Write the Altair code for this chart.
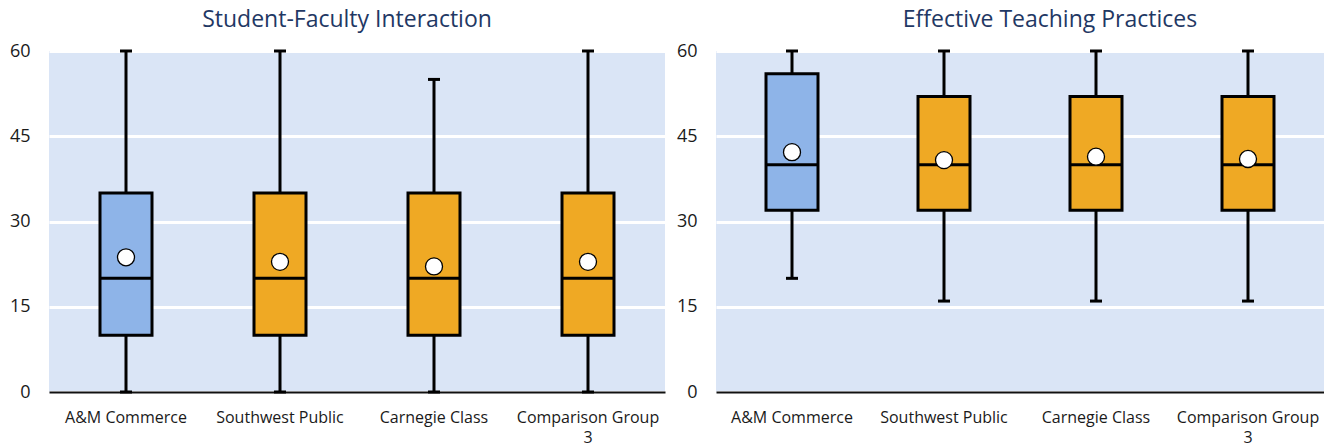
import altair as alt
import pandas as pd

# Institution groups shown along the x axis of both panels
GROUPS = ["A&M Commerce", "Southwest Public", "Carnegie Class", "Comparison Group 3"]

# Student-Faculty Interaction: five-number summary plus mean per group
SFI_MIN = [0, 0, 0, 0]
SFI_Q1 = [10, 10, 10, 10]
SFI_MEDIAN = [20, 20, 20, 20]
SFI_Q3 = [35, 35, 35, 35]
SFI_MAX = [60, 60, 55, 60]
SFI_MEAN = [23.7, 22.9, 22.1, 22.9]

# Effective Teaching Practices: five-number summary plus mean per group
ETP_MIN = [20, 16, 16, 16]
ETP_Q1 = [32, 32, 32, 32]
ETP_MEDIAN = [40, 40, 40, 40]
ETP_Q3 = [56, 52, 52, 52]
ETP_MAX = [60, 60, 60, 60]
ETP_MEAN = [42.2, 40.8, 41.4, 41.0]

Y_TICKS = [0, 15, 30, 45, 60]

# Styling
FONT = "Open Sans"
TEXT_COLOR = "#1a1a1a"
TITLE_COLOR = "#1f3864"
PLOT_BG = "#dae5f6"
BOX_COLORS = ["#8eb4e8", "#efa924", "#efa924", "#efa924"]


def panel(title, lo, q1, med, q3, hi, mean, width, title_dx):
    df = pd.DataFrame(
        {"group": GROUPS, "lo": lo, "q1": q1, "med": med, "q3": q3, "hi": hi, "mean": mean}
    )

    x = alt.X(
        "group:N",
        sort=GROUPS,
        scale=alt.Scale(domain=GROUPS, paddingInner=0, paddingOuter=0),
        axis=alt.Axis(
            title=None,
            labelAngle=0,
            ticks=False,
            grid=False,
            domain=True,
            domainColor="#111111",
            domainWidth=2,
            labelFont=FONT,
            labelFontSize=16,
            labelColor=TEXT_COLOR,
            labelPadding=17,
            labelLineHeight=20,
            labelExpr="datum.label == 'Comparison Group 3' ? ['Comparison Group', '3'] : datum.label",
        ),
    )
    y_scale = alt.Scale(domain=[0, 60], nice=False)
    y_axis = alt.Axis(
        title=None,
        values=Y_TICKS,
        ticks=False,
        domain=False,
        grid=True,
        gridColor="white",
        gridWidth=3,
        labelFont=FONT,
        labelFontSize=18,
        labelColor=TEXT_COLOR,
        labelPadding=19,
        minExtent=40,
        maxExtent=40,
    )

    def y(field):
        return alt.Y(field, type="quantitative", scale=y_scale, axis=y_axis, title=None)

    base = alt.Chart(df)

    whisker = base.mark_rule(color="black", strokeWidth=3).encode(
        x=x, y=y("lo"), y2="hi:Q"
    )
    box = base.mark_bar(size=52, stroke="black", strokeWidth=3, strokeJoin="miter").encode(
        x=x,
        y=y("q1"),
        y2="q3:Q",
        color=alt.Color(
            "group:N", scale=alt.Scale(domain=GROUPS, range=BOX_COLORS), legend=None
        ),
    )
    median = base.mark_tick(size=52, thickness=3, color="black", opacity=1).encode(
        x=x, y=y("med")
    )
    cap_lo = base.mark_tick(size=12, thickness=3, color="black", opacity=1).encode(
        x=x, y=y("lo")
    )
    cap_hi = base.mark_tick(size=12, thickness=3, color="black", opacity=1).encode(
        x=x, y=y("hi")
    )
    mean_pt = base.mark_point(
        shape="circle", filled=True, fill="white", stroke="black",
        strokeWidth=1.3, size=290, opacity=1,
    ).encode(x=x, y=y("mean"))

    return alt.layer(whisker, box, median, cap_lo, cap_hi, mean_pt).properties(
        width=width,
        height=341,
        title=alt.TitleParams(
            title,
            font=FONT,
            fontSize=23,
            fontWeight="normal",
            color=TITLE_COLOR,
            anchor="middle",
            dx=title_dx,
            offset=10,
        ),
    )


left = panel("Student-Faculty Interaction", SFI_MIN, SFI_Q1, SFI_MEDIAN, SFI_Q3, SFI_MAX,
             SFI_MEAN, 616, -10)
right = panel("Effective Teaching Practices", ETP_MIN, ETP_Q1, ETP_MEDIAN, ETP_Q3, ETP_MAX,
              ETP_MEAN, 608, 30)

chart = (
    alt.hconcat(left, right, spacing=11)
    .properties(padding={"left": 9, "top": 9, "right": 0, "bottom": 0}, background="white")
    .configure_view(fill=PLOT_BG, strokeWidth=0)
)

chart.save("out.html", embed_options={"renderer": "svg", "actions": False})
